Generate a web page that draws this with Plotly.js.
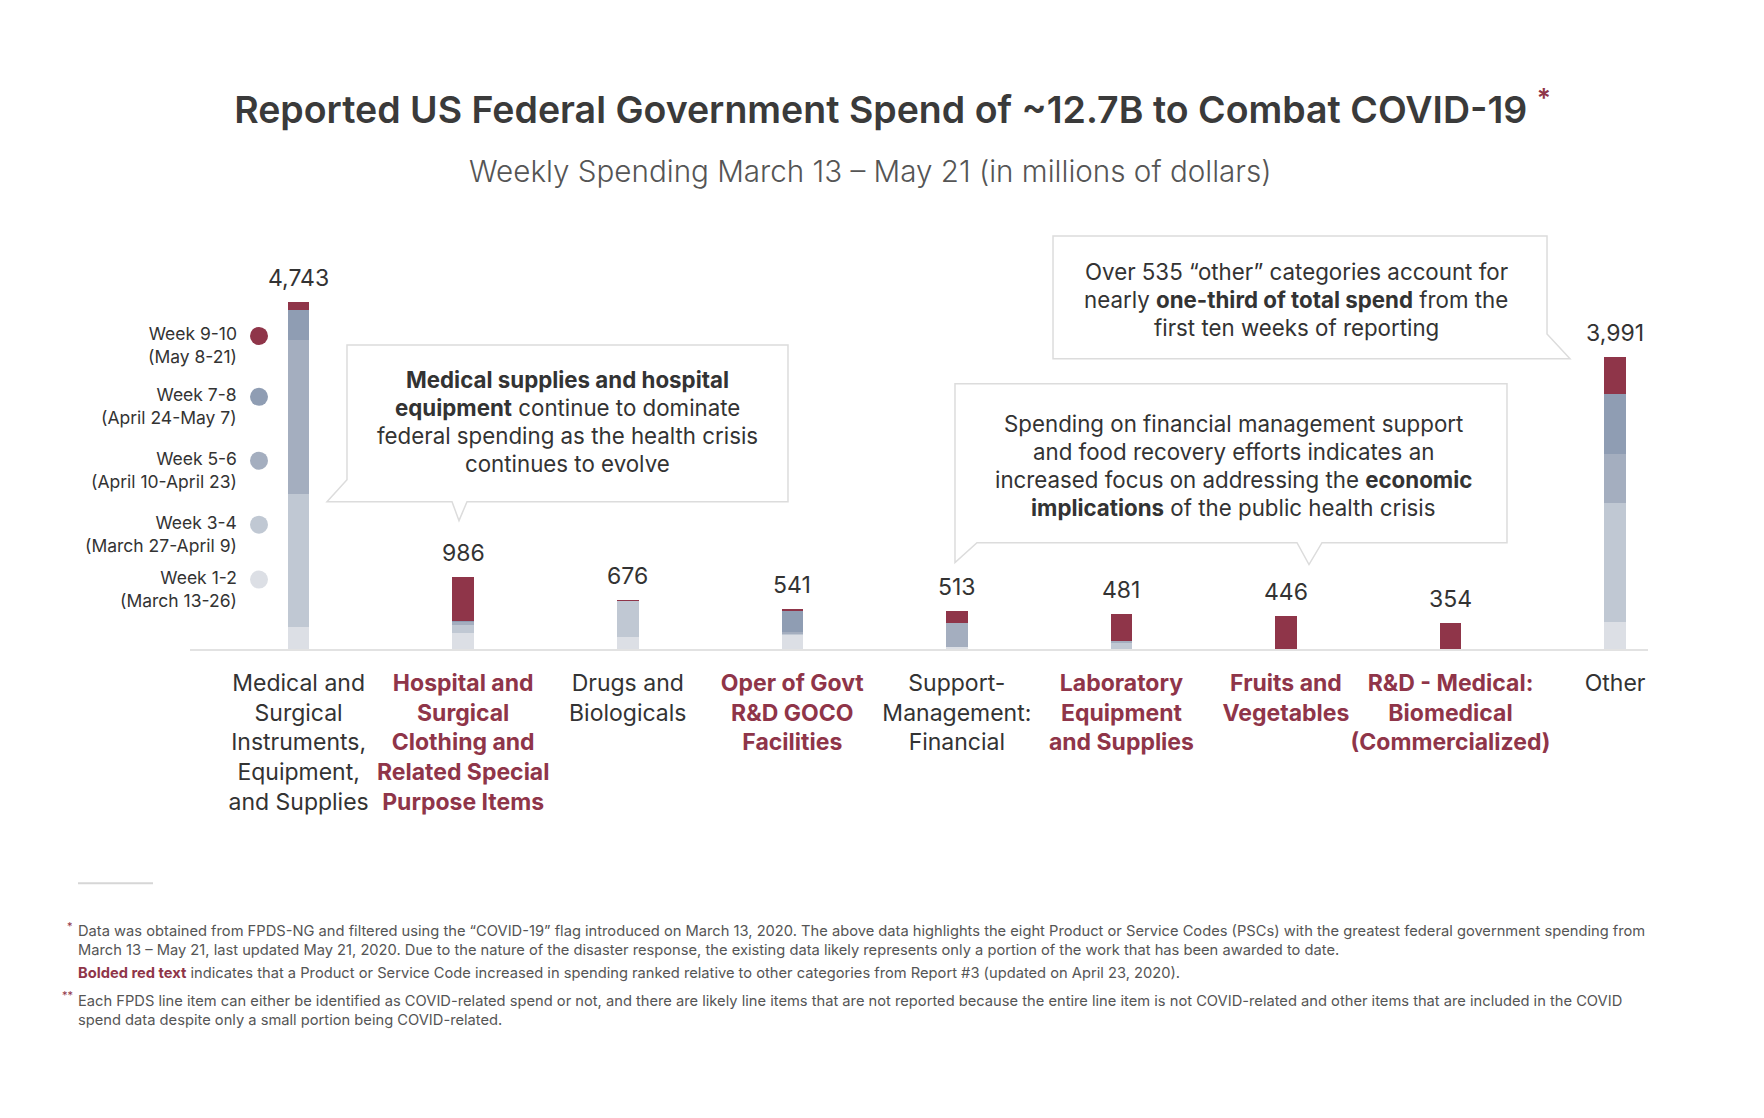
<!DOCTYPE html>
<html><head><meta charset="utf-8">
<script src="https://cdn.plot.ly/plotly-3.0.1.min.js"></script>
<style>html,body{margin:0;padding:0;background:#fff}</style>
</head><body><div id="chart" style="width:1764px;height:1118px"></div>
<script>
// ---------------- DATA ----------------
const categories = [
  "Medical and Surgical Instruments, Equipment, and Supplies",
  "Hospital and Surgical Clothing and Related Special Purpose Items",
  "Drugs and Biologicals",
  "Oper of Govt R&D GOCO Facilities",
  "Support-Management: Financial",
  "Laboratory Equipment and Supplies",
  "Fruits and Vegetables",
  "R&D - Medical: Biomedical (Commercialized)",
  "Other"
];
const tickLabels = [
  "Medical and<br>Surgical<br>Instruments,<br>Equipment,<br>and Supplies",
  "Hospital and<br>Surgical<br>Clothing and<br>Related Special<br>Purpose Items",
  "Drugs and<br>Biologicals",
  "Oper of Govt<br>R&D GOCO<br>Facilities",
  "Support-<br>Management:<br>Financial",
  "Laboratory<br>Equipment<br>and Supplies",
  "Fruits and<br>Vegetables",
  "R&D - Medical:<br>Biomedical<br>(Commercialized)",
  "Other"
];
const increasedRank = [false, true, false, true, false, true, true, true, false];
const totals   = [4743, 986, 676, 541, 513, 481, 446, 354, 3991];
const week1_2  = [300, 224, 163, 195, 24, 0, 0, 0, 375];
const week3_4  = [1815, 110, 488, 10, 0, 86, 0, 0, 1613];
const week5_6  = [2106, 29, 5, 28, 331, 24, 0, 0, 677];
const week7_8  = [409, 24, 3, 289, 0, 0, 0, 0, 823];
const week9_10 = [113, 599, 17, 19, 158, 371, 446, 354, 503];
const seriesNames = ["Week 1-2", "Week 3-4", "Week 5-6", "Week 7-8", "Week 9-10"];
const seriesDates = ["(March 13-26)", "(March 27-April 9)", "(April 10-April 23)", "(April 24-May 7)", "(May 8-21)"];
const seriesValues = [week1_2, week3_4, week5_6, week7_8, week9_10];

const callout1 = ["<b>Medical supplies and hospital</b>", "<b>equipment</b> continue to dominate", "federal spending as the health crisis", "continues to evolve"];
const callout2 = ["Over 535 “other” categories account for", "nearly <b>one-third of total spend</b> from the", "first ten weeks of reporting"];
const callout3 = ["Spending on financial management support", "and food recovery efforts indicates an", "increased focus on addressing the <b>economic</b>", "<b>implications</b> of the public health crisis"];

// ---------------- STYLE ----------------
const FONT = "Inter, 'Open Sans', sans-serif";
const RED = "#8f3549";
const seriesColors = ["#dcdfe5", "#c0c8d3", "#a4aebf", "#8f9db3", RED];
const W = 1764, H = 1118, ML = 190, MR = 116, MT = 250, MB = 468.5;
const PW = W - ML - MR, PH = H - MT - MB;
const px = X => (X - ML) / PW;
const py = Y => (H - MB - Y) / PH;

const traces = seriesValues.map((vals, i) => ({
  type: "bar",
  name: seriesNames[i] + " " + seriesDates[i],
  x: categories,
  y: vals,
  marker: {color: seriesColors[i], line: {width: 0}},
  showlegend: false,
  hoverinfo: "skip"
}));

const styledTicks = tickLabels.map((t, i) => t.split("<br>").map(line =>
  increasedRank[i] ? `<span style="color:${RED}"><b>${line}</b></span>` : line).join("<br>"));

const annotations = [];
// totals above bars
categories.forEach((c, i) => {
  annotations.push({
    x: c, y: totals[i], xref: "x", yref: "y", text: totals[i].toLocaleString("en-US"),
    showarrow: false, yanchor: "bottom", yshift: 8,
    font: {family: FONT, size: 23, color: "#333"}
  });
});
// subtitle
annotations.push({
  xref: "paper", yref: "paper", x: px(870), y: py(171), xanchor: "center", yanchor: "middle",
  text: "Weekly Spending March 13 – May 21 (in millions of dollars)", showarrow: false,
  font: {family: FONT, size: 29.6, color: "#555", weight: 300}
});
// legend (manual: text left, dot right)
const legendDotY = [580, 525, 461, 397, 336];
seriesNames.forEach((n, i) => {
  annotations.push({
    xref: "paper", yref: "paper", x: px(239), y: py(legendDotY[i] + 9), xanchor: "right", yanchor: "middle",
    align: "right", text: n + "<br>" + seriesDates[i], showarrow: false,
    font: {family: FONT, size: 17.5, color: "#333"}
  });
});
// callout texts (one annotation per line for exact leading)
const boxFont = {family: FONT, size: 22.3, color: "#333"};
const LEAD = 27.8;
[[callout1, 567, 380], [callout2, 1296, 271.5], [callout3, 1233, 424]].forEach(([lines, cx, y0]) => {
  lines.forEach((ln, j) => annotations.push({
    xref: "paper", yref: "paper", x: px(cx), y: py(y0 + j * LEAD), xanchor: "center", yanchor: "middle",
    text: ln, showarrow: false, font: boxFont
  }));
});
// footnotes
const fnFont = {family: FONT, size: 14.7, color: "#555"};
annotations.push({
  xref: "paper", yref: "paper", x: px(76), y: py(920.5), xanchor: "left", yanchor: "top", align: "left", showarrow: false,
  text: "Data was obtained from FPDS-NG and filtered using the “COVID-19” flag introduced on March 13, 2020. The above data highlights the eight Product or Service Codes (PSCs) with the greatest federal government spending from<br>March 13 – May 21, last updated May 21, 2020. Due to the nature of the disaster response, the existing data likely represents only a portion of the work that has been awarded to date.",
  font: fnFont
});
annotations.push({
  xref: "paper", yref: "paper", x: px(76), y: py(973.5), xanchor: "left", yanchor: "middle", align: "left", showarrow: false,
  text: `<span style="color:${RED}"><b>Bolded red text</b></span> indicates that a Product or Service Code increased in spending ranked relative to other categories from Report #3 (updated on April 23, 2020).`,
  font: fnFont
});
annotations.push({
  xref: "paper", yref: "paper", x: px(76), y: py(990.5), xanchor: "left", yanchor: "top", align: "left", showarrow: false,
  text: "Each FPDS line item can either be identified as COVID-related spend or not, and there are likely line items that are not reported because the entire line item is not COVID-related and other items that are included in the COVID<br>spend data despite only a small portion being COVID-related.",
  font: fnFont
});
annotations.push({
  xref: "paper", yref: "paper", x: px(75), y: py(927), xanchor: "right", yanchor: "middle", showarrow: false,
  text: "*", font: {family: FONT, size: 11, color: RED}
});
annotations.push({
  xref: "paper", yref: "paper", x: px(75), y: py(996), xanchor: "right", yanchor: "middle", showarrow: false,
  text: "**", font: {family: FONT, size: 11, color: RED}
});

// shapes
const toPath = pts => pts.map((p, i) => (i ? "L" : "M") + px(p[0]).toFixed(5) + "," + py(p[1]).toFixed(5)).join(" ") + " Z";
const boxStyle = {type: "path", xref: "paper", yref: "paper", fillcolor: "#fff", line: {color: "#dcdcdc", width: 1.5}, layer: "below"};
const shapes = [
  Object.assign({}, boxStyle, {path: toPath([[347,345],[788,345],[788,502],[467,502],[459,521],[452,502],[327,502],[347,480]])}),
  Object.assign({}, boxStyle, {path: toPath([[1053,236],[1547,236],[1547,334],[1570,359],[1053,359]])}),
  Object.assign({}, boxStyle, {path: toPath([[955,384],[1507,384],[1507,543],[1322,543],[1309,565],[1297,543],[977,543],[955,563]])}),
  {type: "line", xref: "paper", yref: "paper", x0: px(78), x1: px(153), y0: py(884), y1: py(884), line: {color: "#d6d6d6", width: 2}}
];
seriesNames.forEach((n, i) => {
  shapes.push({
    type: "circle", xref: "paper", yref: "paper", xsizemode: "pixel", ysizemode: "pixel",
    xanchor: px(259), yanchor: py(legendDotY[i]), x0: -9, x1: 9, y0: -9, y1: 9,
    fillcolor: seriesColors[i], line: {width: 0}
  });
});

const layout = {
  width: W, height: H,
  margin: {l: ML, r: MR, t: MT, b: MB, pad: 0},
  paper_bgcolor: "#fff", plot_bgcolor: "#fff",
  barmode: "stack", bargap: 0.869,
  font: {family: FONT, color: "#333"},
  title: {
    text: `Reported US Federal Government Spend of ~12.7B to Combat COVID-19 <span style="color:${RED}"><sup>*</sup></span>`,
    x: 0.506, xanchor: "center", xref: "container", y: 1 - 110 / H, yanchor: "middle", yref: "container",
    font: {family: FONT, size: 37.5, color: "#3a3a3a", weight: 600}
  },
  xaxis: {
    type: "category", range: [-0.66, 8.2], tickmode: "array", tickvals: categories, ticktext: styledTicks,
    showline: true, linecolor: "#e2e2e2", linewidth: 2, showgrid: false, zeroline: false,
    ticks: "outside", ticklen: 12, tickcolor: "rgba(0,0,0,0)",
    tickfont: {family: FONT, size: 23, color: "#333"}, tickangle: 0, fixedrange: true
  },
  yaxis: {range: [0, 5450], visible: false, fixedrange: true},
  annotations: annotations,
  shapes: shapes,
  showlegend: false
};

Plotly.newPlot("chart", traces, layout, {displayModeBar: false, staticPlot: true});
</script>
</body></html>
